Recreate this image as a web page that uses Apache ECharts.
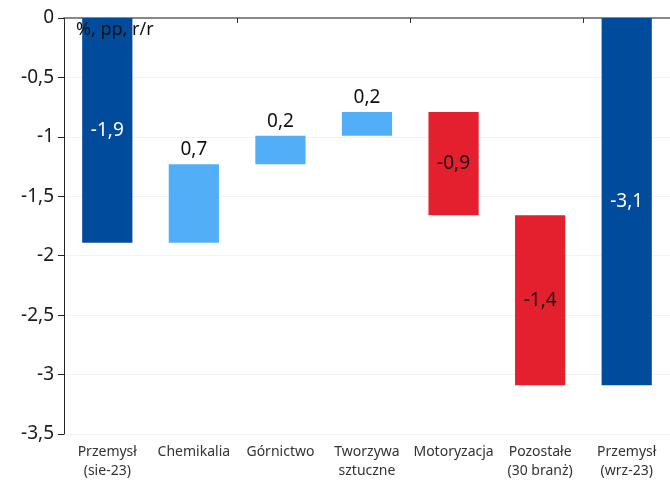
<!DOCTYPE html>
<html>
<head>
<meta charset="utf-8">
<script src="https://cdn.jsdelivr.net/npm/echarts@6/dist/echarts.min.js"></script>
<style>
  html, body { margin: 0; padding: 0; background: #fff; }
  #chart { width: 670px; height: 481px; }
</style>
</head>
<body>
<div id="chart"></div>
<script>
const categories = ['Przemysł\n(sie-23)', 'Chemikalia', 'Górnictwo', 'Tworzywa\nsztuczne', 'Motoryzacja', 'Pozostałe\n(30 branż)', 'Przemysł\n(wrz-23)'];
const values = [-1.89, 0.66, 0.24, 0.2, -0.87, -1.43, -3.09];
const kinds = ['total', 'delta', 'delta', 'delta', 'delta', 'delta', 'total'];
const yTicks = { min: -3.5, max: 0, interval: 0.5 };

const colors = { total: '#004b9b', up: '#53aef8', down: '#e5202e' };

// build waterfall: invisible base + visible segment
let running = 0;
const base = [];
const bars = [];
values.forEach((v, i) => {
  if (kinds[i] === 'total') {
    base.push(0);
    bars.push({ value: v, raw: v, itemStyle: { color: colors.total },
      label: { position: 'inside', color: '#fff' } });
    running = v;
  } else {
    const top = Math.max(running, running + v);
    base.push(top);
    bars.push({ value: -Math.abs(v), raw: v,
      itemStyle: { color: v >= 0 ? colors.up : colors.down },
      label: v >= 0 ? { position: 'top', color: '#111' } : { position: 'inside', color: '#111' } });
    running += v;
  }
});

const fmt = v => v.toFixed(1).replace('.', ',');

const chart = echarts.init(document.getElementById('chart'));
chart.setOption({
  animation: false,
  textStyle: { fontFamily: 'Noto Sans' },
  grid: { left: 64, right: -7, top: 18, bottom: 47 },
  graphic: [{
    type: 'text', left: 76, top: 21, z: 100,
    style: { text: '%, pp, r/r', fontSize: 18, fill: '#111', fontFamily: 'Noto Sans' }
  }],
  xAxis: [{
    type: 'category',
    data: categories,
    position: 'bottom',
    axisLine: { show: false, onZero: false },
    axisTick: { show: false },
    axisLabel: { color: '#333', fontSize: 14, lineHeight: 19, margin: 9, interval: 0 }
  }, {
    type: 'category',
    data: categories,
    position: 'top',
    axisLine: { show: true, lineStyle: { color: '#888', width: 2 } },
    axisTick: { show: true, inside: true, length: 5, lineStyle: { color: '#333' } },
    axisLabel: { show: false }
  }],
  yAxis: {
    type: 'value',
    min: yTicks.min, max: yTicks.max, interval: yTicks.interval,
    axisLine: { show: true, lineStyle: { color: '#222' } },
    axisTick: { show: true, length: 6, lineStyle: { color: '#222' } },
    axisLabel: { color: '#1a1a1a', fontSize: 19, margin: 10, formatter: v => fmt(v).replace(',0', '') },
    splitLine: { show: true, lineStyle: { color: '#f2f2f2' } }
  },
  series: [{
    type: 'bar',
    stack: 'wf',
    data: base,
    barWidth: '58%',
    itemStyle: { color: 'transparent' },
    silent: true
  }, {
    type: 'bar',
    stack: 'wf',
    data: bars,
    barWidth: '58%',
    label: {
      show: true, fontSize: 19,
      formatter: p => fmt(p.data.raw)
    }
  }]
});
</script>
</body>
</html>
